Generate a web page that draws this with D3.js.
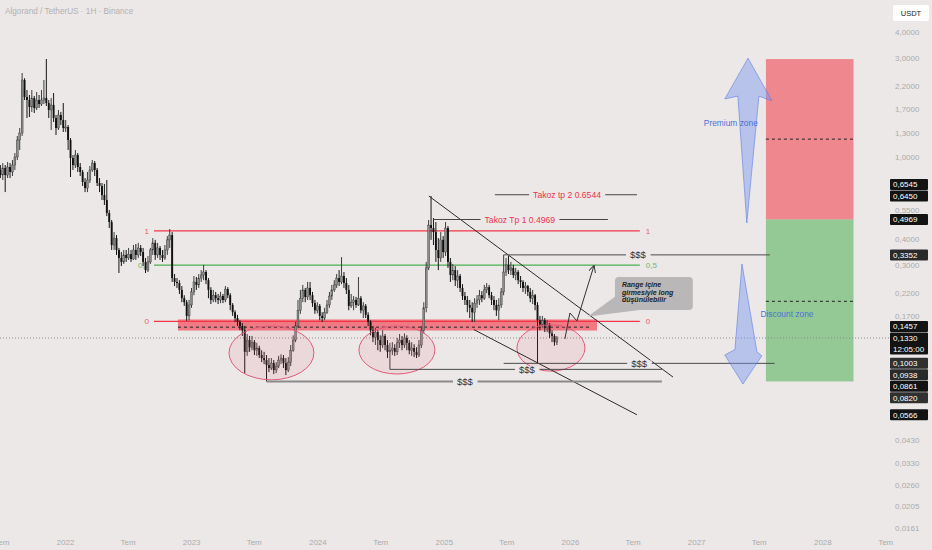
<!DOCTYPE html>
<html>
<head>
<meta charset="utf-8">
<script src="https://cdnjs.cloudflare.com/ajax/libs/d3/7.8.5/d3.min.js"></script>
<style>
  html, body { margin: 0; padding: 0; background: #ece8e8; }
  svg { display: block; font-family: "Liberation Sans", Arial, sans-serif; }
</style>
</head>
<body>
<svg id="chart" width="932" height="550"></svg>
<script>
// Weekly ALGO/USDT candles, first week starts 2021-06-28. Open = previous close.
const firstOpen = 0.862;
const closes = [
  0.815, 0.881, 0.815, 0.891, 0.843, 0.911, 0.996, 1.203, 1.30, 2.346,
  1.941, 1.877, 1.737, 1.919, 1.718, 1.877, 1.795, 1.877, 1.919, 1.815,
  1.680, 1.776, 1.537, 1.375, 1.589, 1.503, 1.375, 1.390, 1.203, 0.985,
  0.911, 1.018, 0.891, 0.843, 0.754, 0.705, 0.771, 0.862, 0.931, 0.862,
  0.746, 0.721, 0.652, 0.617, 0.534, 0.483, 0.374, 0.404, 0.354, 0.324,
  0.310, 0.335, 0.324, 0.338, 0.320, 0.354, 0.335, 0.362, 0.346, 0.310,
  0.283, 0.310, 0.354, 0.383, 0.335, 0.362, 0.335, 0.324, 0.354, 0.396,
  0.418, 0.259, 0.248, 0.245, 0.227, 0.207, 0.198, 0.170, 0.192, 0.222,
  0.248, 0.240, 0.259, 0.268, 0.277, 0.253, 0.227, 0.203, 0.214, 0.207,
  0.203, 0.212, 0.203, 0.229, 0.214, 0.192, 0.177, 0.166, 0.159, 0.152,
  0.145, 0.114, 0.130, 0.120, 0.127, 0.116, 0.119, 0.110, 0.1064, 0.104,
  0.0984, 0.0952, 0.1006, 0.0931, 0.0973, 0.104, 0.1064, 0.1006, 0.0931, 0.1017,
  0.116, 0.130, 0.152, 0.181, 0.207, 0.227, 0.210, 0.232, 0.214, 0.196,
  0.181, 0.190, 0.170, 0.166, 0.177, 0.192, 0.212, 0.227, 0.240, 0.259,
  0.248, 0.265, 0.245, 0.227, 0.190, 0.198, 0.203, 0.192, 0.207, 0.181,
  0.190, 0.172, 0.159, 0.145, 0.134, 0.142, 0.130, 0.123, 0.136, 0.123,
  0.114, 0.116, 0.119, 0.114, 0.126, 0.130, 0.123, 0.133, 0.126, 0.116,
  0.119, 0.114, 0.110, 0.123, 0.145, 0.186, 0.290, 0.467, 0.452, 0.432,
  0.354, 0.324, 0.396, 0.346, 0.452, 0.310, 0.268, 0.283, 0.253, 0.265,
  0.232, 0.212, 0.203, 0.192, 0.186, 0.177, 0.196, 0.203, 0.214, 0.207,
  0.227, 0.234, 0.214, 0.203, 0.192, 0.181, 0.192, 0.222, 0.277, 0.300,
  0.283, 0.290, 0.268, 0.277, 0.253, 0.248, 0.232, 0.237, 0.222, 0.207,
  0.214, 0.192, 0.162, 0.155, 0.162, 0.149, 0.154, 0.140, 0.136, 0.127, 0.1330,
];
const highs = [
  0.911, 0.931, 0.911, 0.942, 0.931, 0.963, 1.041, 1.258, 1.375, 2.535,
  2.39, 2.098, 1.985, 2.098, 1.963, 2.052, 1.985, 2.098, 2.346, 2.962,
  1.877, 1.919, 2.029, 1.589, 1.680, 1.643, 1.815, 1.503, 1.421, 1.230,
  1.018, 1.077, 1.041, 0.931, 0.862, 0.788, 0.843, 0.901, 0.963, 0.952,
  0.881, 0.788, 0.746, 0.738, 0.771, 0.552, 0.494, 0.432, 0.418, 0.362,
  0.346, 0.354, 0.354, 0.362, 0.354, 0.374, 0.378, 0.383, 0.374, 0.362,
  0.324, 0.331, 0.362, 0.404, 0.396, 0.383, 0.370, 0.354, 0.374, 0.413,
  0.447, 0.432, 0.271, 0.259, 0.253, 0.237, 0.214, 0.203, 0.203, 0.232,
  0.265, 0.262, 0.271, 0.283, 0.300, 0.283, 0.259, 0.234, 0.227, 0.222,
  0.217, 0.222, 0.217, 0.237, 0.234, 0.219, 0.196, 0.181, 0.172, 0.162,
  0.157, 0.152, 0.139, 0.136, 0.136, 0.130, 0.126, 0.122, 0.116, 0.114,
  0.110, 0.1064, 0.1064, 0.104, 0.1017, 0.109, 0.111, 0.110, 0.1064, 0.1075,
  0.123, 0.137, 0.159, 0.203, 0.227, 0.240, 0.232, 0.248, 0.248, 0.222,
  0.203, 0.198, 0.194, 0.177, 0.186, 0.203, 0.222, 0.240, 0.253, 0.271,
  0.283, 0.327, 0.277, 0.259, 0.240, 0.217, 0.212, 0.210, 0.262, 0.212,
  0.198, 0.194, 0.177, 0.162, 0.152, 0.149, 0.145, 0.137, 0.145, 0.139,
  0.130, 0.126, 0.127, 0.124, 0.133, 0.139, 0.136, 0.140, 0.137, 0.130,
  0.127, 0.124, 0.120, 0.130, 0.152, 0.198, 0.310, 0.494, 0.645, 0.505,
  0.483, 0.404, 0.432, 0.413, 0.483, 0.462, 0.324, 0.303, 0.296, 0.283,
  0.271, 0.242, 0.222, 0.212, 0.203, 0.198, 0.207, 0.214, 0.227, 0.224,
  0.240, 0.245, 0.240, 0.222, 0.212, 0.203, 0.207, 0.232, 0.3352, 0.324,
  0.331, 0.310, 0.300, 0.290, 0.283, 0.265, 0.253, 0.248, 0.240, 0.232,
  0.227, 0.217, 0.198, 0.170, 0.170, 0.166, 0.162, 0.157, 0.145, 0.139, 0.136,
];
const lows = [
  0.788, 0.771, 0.674, 0.788, 0.788, 0.806, 0.862, 0.963, 1.077, 1.258,
  1.877, 1.537, 1.554, 1.643, 1.625, 1.680, 1.718, 1.756, 1.795, 1.756,
  1.537, 1.345, 1.470, 1.272, 1.345, 1.421, 1.315, 1.315, 1.077, 0.797,
  0.862, 0.881, 0.843, 0.806, 0.721, 0.674, 0.674, 0.746, 0.843, 0.806,
  0.721, 0.674, 0.617, 0.584, 0.516, 0.452, 0.354, 0.354, 0.335, 0.274,
  0.296, 0.303, 0.310, 0.317, 0.310, 0.317, 0.317, 0.324, 0.331, 0.296,
  0.274, 0.277, 0.303, 0.335, 0.317, 0.324, 0.317, 0.310, 0.317, 0.335,
  0.362, 0.248, 0.237, 0.232, 0.217, 0.198, 0.190, 0.161, 0.162, 0.186,
  0.214, 0.227, 0.232, 0.248, 0.253, 0.242, 0.207, 0.194, 0.198, 0.198,
  0.194, 0.196, 0.196, 0.198, 0.207, 0.181, 0.170, 0.159, 0.152, 0.145,
  0.136, 0.0900, 0.109, 0.114, 0.116, 0.110, 0.109, 0.1064, 0.1017, 0.0995,
  0.0820, 0.0910, 0.0931, 0.0890, 0.0900, 0.0952, 0.0995, 0.0952, 0.0880, 0.0910,
  0.0973, 0.114, 0.127, 0.149, 0.174, 0.198, 0.198, 0.203, 0.203, 0.188,
  0.174, 0.175, 0.162, 0.159, 0.162, 0.174, 0.186, 0.203, 0.222, 0.232,
  0.237, 0.242, 0.232, 0.217, 0.181, 0.186, 0.181, 0.186, 0.190, 0.175,
  0.166, 0.166, 0.152, 0.137, 0.127, 0.123, 0.116, 0.114, 0.119, 0.116,
  0.1064, 0.0938, 0.110, 0.109, 0.110, 0.119, 0.116, 0.119, 0.116, 0.111,
  0.109, 0.1075, 0.1064, 0.1075, 0.119, 0.140, 0.177, 0.283, 0.396, 0.374,
  0.310, 0.283, 0.310, 0.324, 0.331, 0.290, 0.248, 0.253, 0.237, 0.232,
  0.222, 0.203, 0.192, 0.177, 0.166, 0.159, 0.159, 0.186, 0.192, 0.198,
  0.203, 0.219, 0.207, 0.192, 0.181, 0.170, 0.162, 0.186, 0.214, 0.265,
  0.271, 0.268, 0.259, 0.253, 0.242, 0.232, 0.222, 0.217, 0.212, 0.198,
  0.194, 0.181, 0.1003, 0.145, 0.149, 0.142, 0.142, 0.133, 0.127, 0.122, 0.123,
];

const priceTicks = [4, 3, 2.2, 1.7, 1.3, 1, 0.55, 0.4, 0.3, 0.22, 0.17, 0.043, 0.033, 0.026, 0.0205, 0.0161];
const yearTicks = [2021, 2022, 2023, 2024, 2025, 2026, 2027, 2028];
const midYearLabel = 'Tem';

// drawings, positioned in weeks since first candle and prices
const fibSpan = [63.5, 264.3];
const fibLevels = [
  { label: '1', price: 0.438, color: '#f23645' },
  { label: '0,5', price: 0.299, color: '#4caf50' },
  { label: '0', price: 0.160, color: '#f23645' },
];
const redZone = { w0: 73.4, w1: 246.6, top: 0.1635, bottom: 0.1445, mid: 0.150, midEnd: 243.7 };
const targets = [
  { text: 'Takoz tp 2 0.6544', price: 0.6544, w0: 204.4, w1: 263.1, wText: 234.2 },
  { text: 'Takoz Tp 1 0.4969', price: 0.4969, w0: 178.8, w1: 251.1, wText: 214.7 },
];
const liquidity = [
  { price: 0.3352, w0: 208, w1: 318, wText: 263.5, heavy: false },
  { price: 0.1003, w0: 208, w1: 320, wText: 264, heavy: false },
  { price: 0.0938, w0: 161, w1: 273.4, wText: 217.6, heavy: false },
  { price: 0.0820, w0: 110, w1: 273.4, wText: 192, heavy: true },
];
const trendLines = [
  [[177.1, 0.645], [278, 0.0861]],
  [[195.7, 0.146], [263.1, 0.0566]],
];
const circles = [
  { w0: 94.5, w1: 129.6, top: 0.152, bottom: 0.0835 },
  { w0: 148.2, w1: 179.6, top: 0.152, bottom: 0.0891 },
  { w0: 213.5, w1: 241.6, top: 0.154, bottom: 0.092 },
];
const projection = [[233.3, 0.1315], [235.4, 0.1756], [238.3, 0.1608], [245.3, 0.2964]];
const callout = { w0: 254, w1: 286.2, top: 0.262, bottom: 0.1816 };
const calloutTail = [[254.4, 0.212], [242.8, 0.169], [264.3, 0.1816]];
const calloutLines = ['Range içine', 'girmesiyle long', 'düşünülebilir'];
const zones = [
  { top: 2.96, bottom: 0.4969, mid: 1.215, fill: 'rgba(242,54,69,0.55)' },
  { top: 0.4969, bottom: 0.082, mid: 0.200, fill: 'rgba(76,175,80,0.55)' },
];
const zoneSpan = [316.4, 352.6];
const zoneArrows = [
  [[309, 2.99], [318.9, 1.86], [313.5, 1.96], [308.5, 0.478], [304.8, 1.96], [299.4, 1.90]],
  [[306.5, 0.303], [312.7, 0.114], [314.7, 0.109], [306.9, 0.0797], [299.4, 0.110], [303.6, 0.117]],
];
const zoneLabels = [
  { text: 'Premium zone', w: 301.9, price: 1.454 },
  { text: 'Discount zone', w: 325.1, price: 0.174 },
];
const badges = [
  { price: 0.6545, fill: '#131313' },
  { price: 0.6450, fill: '#131313' },
  { price: 0.4969, fill: '#131313' },
  { price: 0.3352, fill: '#2a2a2a' },
  { price: 0.1457, fill: '#131313' },
  { price: 0.1330, fill: '#131313', sub: '12:05:00' },
  { price: 0.1003, fill: '#303030' },
  { price: 0.0938, fill: '#2a2a2a' },
  { price: 0.0861, fill: '#131313' },
  { price: 0.0820, fill: '#303030' },
  { price: 0.0566, fill: '#131313' },
];
const currentPrice = 0.1330;

const bg = '#ece8e8';
const svg = d3.select('#chart');
svg.append('rect').attr('width', 932).attr('height', 550).attr('fill', bg);

const x = d3.scaleTime()
  .domain([new Date(2022, 0, 1), new Date(2026, 0, 1)])
  .range([65, 570]);
const y = d3.scaleLog()
  .domain([0.0161, 4])
  .range([527.8, 32]);
const firstWeek = new Date(2021, 5, 28);
const weekMs = 7 * 864e5;
const wx = w => x(new Date(firstWeek.getTime() + w * weekMs));
const fmtPrice = d => d3.format('.4f')(d).replace('.', ',');

const candles = closes.map((c, i) => ({
  date: d3.timeDay.offset(firstWeek, 7 * i),
  open: i === 0 ? firstOpen : closes[i - 1],
  high: highs[i],
  low: lows[i],
  close: c,
}));

// title
svg.append('text')
  .attr('x', 5)
  .attr('y', 14)
  .attr('font-size', 8.2)
  .attr('fill', '#b3b0b0')
  .text('Algorand / TetherUS · 1H · Binance');

// premium / discount boxes
const zoneG = svg.append('g').attr('class', 'zones');
zones.forEach(z => {
  zoneG.append('rect')
    .attr('x', wx(zoneSpan[0]))
    .attr('y', y(z.top))
    .attr('width', wx(zoneSpan[1]) - wx(zoneSpan[0]))
    .attr('height', y(z.bottom) - y(z.top))
    .attr('fill', z.fill);
  zoneG.append('line')
    .attr('x1', wx(zoneSpan[0]))
    .attr('x2', wx(zoneSpan[1]))
    .attr('y1', y(z.mid))
    .attr('y2', y(z.mid))
    .attr('stroke', '#222')
    .attr('stroke-dasharray', '3,3');
});

// red range band
svg.append('rect')
  .attr('x', wx(redZone.w0))
  .attr('y', y(redZone.top))
  .attr('width', wx(redZone.w1) - wx(redZone.w0))
  .attr('height', y(redZone.bottom) - y(redZone.top))
  .attr('fill', 'rgba(242,54,69,0.62)');
svg.append('line')
  .attr('x1', wx(redZone.w0))
  .attr('x2', wx(redZone.midEnd))
  .attr('y1', y(redZone.mid))
  .attr('y2', y(redZone.mid))
  .attr('stroke', '#222')
  .attr('stroke-dasharray', '3,3');

// fib levels
const fibG = svg.append('g').attr('class', 'fib');
fibLevels.forEach(f => {
  fibG.append('line')
    .attr('x1', wx(fibSpan[0]))
    .attr('x2', wx(fibSpan[1]))
    .attr('y1', y(f.price))
    .attr('y2', y(f.price))
    .attr('stroke', f.color)
    .attr('stroke-width', 1.2);
  fibG.append('text')
    .attr('x', wx(fibSpan[0]) - 5)
    .attr('y', y(f.price))
    .attr('dy', '0.35em')
    .attr('text-anchor', 'end')
    .attr('font-size', 8)
    .attr('fill', f.color)
    .attr('opacity', 0.8)
    .text(f.label);
  fibG.append('text')
    .attr('x', wx(fibSpan[1]) + 6)
    .attr('y', y(f.price))
    .attr('dy', '0.35em')
    .attr('font-size', 8)
    .attr('fill', f.color)
    .attr('opacity', 0.8)
    .text(f.label);
});

// current price dotted line
svg.append('line')
  .attr('x1', 0)
  .attr('x2', 890)
  .attr('y1', y(currentPrice))
  .attr('y2', y(currentPrice))
  .attr('stroke', '#8a8a8a')
  .attr('stroke-dasharray', '1,2');

// candles
const candleG = svg.append('g').attr('class', 'candles');
const candle = candleG.selectAll('g.candle')
  .data(candles)
  .enter()
  .append('g')
  .attr('class', 'candle');
candle.append('line')
  .attr('x1', d => x(d.date))
  .attr('x2', d => x(d.date))
  .attr('y1', d => y(d.high))
  .attr('y2', d => y(d.low))
  .attr('stroke', d => d.close >= d.open ? '#3c3c3c' : '#141414')
  .attr('stroke-width', 1);
candle.append('rect')
  .attr('x', d => x(d.date) - 0.95)
  .attr('width', 1.9)
  .attr('y', d => y(Math.max(d.open, d.close)))
  .attr('height', d => Math.max(0.9, Math.abs(y(d.open) - y(d.close))))
  .attr('fill', d => d.close >= d.open ? '#8c8c8c' : '#111')
  .attr('stroke', d => d.close >= d.open ? '#333' : 'none')
  .attr('stroke-width', 0.4);

// circled accumulation areas
svg.append('g')
  .selectAll('ellipse')
  .data(circles)
  .enter()
  .append('ellipse')
  .attr('cx', d => (wx(d.w0) + wx(d.w1)) / 2)
  .attr('cy', d => (y(d.top) + y(d.bottom)) / 2)
  .attr('rx', d => (wx(d.w1) - wx(d.w0)) / 2)
  .attr('ry', d => (y(d.bottom) - y(d.top)) / 2)
  .attr('fill', 'rgba(232,90,120,0.11)')
  .attr('stroke', '#e25a76')
  .attr('stroke-width', 1);

// trend channel
const line = d3.line().x(d => wx(d[0])).y(d => y(d[1]));
svg.append('g')
  .selectAll('path')
  .data(trendLines)
  .enter()
  .append('path')
  .attr('d', line)
  .attr('fill', 'none')
  .attr('stroke', '#2b2b2b')
  .attr('stroke-width', 1);

// horizontal lines with a label sitting in a gap
function gapLabel(g, opts) {
  g.append('line')
    .attr('x1', wx(opts.w0))
    .attr('x2', wx(opts.w1))
    .attr('y1', y(opts.price))
    .attr('y2', y(opts.price))
    .attr('stroke', opts.stroke)
    .attr('stroke-width', opts.strokeWidth);
  const t = g.append('text')
    .attr('x', wx(opts.wText))
    .attr('y', y(opts.price))
    .attr('dy', '0.35em')
    .attr('text-anchor', 'middle')
    .attr('font-size', opts.fontSize)
    .attr('fill', opts.color)
    .text(opts.text);
  const box = t.node().getBBox();
  g.insert('rect', () => t.node())
    .attr('x', box.x - 4)
    .attr('y', y(opts.price) - 3)
    .attr('width', box.width + 8)
    .attr('height', 6)
    .attr('fill', bg);
}
const labelG = svg.append('g').attr('class', 'labels');
targets.forEach(t => gapLabel(labelG, {
  ...t, stroke: '#444', strokeWidth: 1, fontSize: 8.6, color: '#e8344e',
}));
liquidity.forEach(l => gapLabel(labelG, {
  ...l, text: '$$$', stroke: l.heavy ? '#8a8a8a' : '#4a4a4a',
  strokeWidth: l.heavy ? 2 : 1, fontSize: 9.5, color: '#333',
}));

// projected path
svg.append('defs').append('marker')
  .attr('id', 'head')
  .attr('viewBox', '0 0 10 10')
  .attr('refX', 9)
  .attr('refY', 5)
  .attr('markerWidth', 7)
  .attr('markerHeight', 7)
  .attr('orient', 'auto')
  .append('path')
  .attr('d', 'M0,0 L10,5 L0,10')
  .attr('fill', 'none')
  .attr('stroke', '#333')
  .attr('stroke-width', 1.4);
svg.append('path')
  .attr('d', line(projection))
  .attr('fill', 'none')
  .attr('stroke', '#333')
  .attr('stroke-width', 1)
  .attr('marker-end', 'url(#head)');

// callout
const calloutG = svg.append('g').attr('class', 'callout');
calloutG.append('path')
  .attr('d', line(calloutTail) + 'Z')
  .attr('fill', '#b9b7b7');
calloutG.append('rect')
  .attr('x', wx(callout.w0))
  .attr('y', y(callout.top))
  .attr('width', wx(callout.w1) - wx(callout.w0))
  .attr('height', y(callout.bottom) - y(callout.top))
  .attr('rx', 4)
  .attr('fill', '#b9b7b7');
calloutG.selectAll('text')
  .data(calloutLines)
  .enter()
  .append('text')
  .attr('x', wx(callout.w0) + 7)
  .attr('y', (d, i) => y(callout.top) + 10 + i * 7.6)
  .attr('font-size', 7)
  .attr('font-weight', 'bold')
  .attr('font-style', 'italic')
  .attr('fill', '#222')
  .text(d => d);

// blue zone arrows
svg.append('g')
  .selectAll('path')
  .data(zoneArrows)
  .enter()
  .append('path')
  .attr('d', d => line(d) + 'Z')
  .attr('fill', 'rgba(120,150,238,0.45)')
  .attr('stroke', 'rgba(95,125,230,0.6)')
  .attr('stroke-width', 1);
svg.append('g')
  .selectAll('text')
  .data(zoneLabels)
  .enter()
  .append('text')
  .attr('x', d => wx(d.w))
  .attr('y', d => y(d.price))
  .attr('dy', '0.35em')
  .attr('text-anchor', 'middle')
  .attr('font-size', 8.4)
  .attr('fill', '#4a72d8')
  .text(d => d.text);

// x axis
const xTicks = [];
yearTicks.forEach(yr => {
  if (yr > yearTicks[0]) xTicks.push(new Date(yr, 0, 1));
  xTicks.push(new Date(yr, 6, 1));
});
const xAxis = svg.append('g')
  .attr('transform', 'translate(0, 536)')
  .call(d3.axisBottom(x)
    .tickValues(xTicks)
    .tickSize(0)
    .tickFormat(d => d.getMonth() === 0 ? d.getFullYear() : midYearLabel));
xAxis.select('.domain').remove();
xAxis.selectAll('text')
  .attr('font-size', 8)
  .attr('font-family', '"Liberation Sans", Arial, sans-serif')
  .attr('fill', '#ababab');

// y axis
const yAxis = svg.append('g')
  .attr('transform', 'translate(892, 0)')
  .call(d3.axisRight(y)
    .tickValues(priceTicks)
    .tickSize(0)
    .tickFormat(fmtPrice));
yAxis.select('.domain').remove();
yAxis.selectAll('text')
  .attr('x', 3)
  .attr('font-size', 8)
  .attr('font-family', '"Liberation Sans", Arial, sans-serif')
  .attr('fill', '#ababab');

// unit button
svg.append('rect')
  .attr('x', 893)
  .attr('y', 5)
  .attr('width', 36)
  .attr('height', 16)
  .attr('rx', 2)
  .attr('fill', '#fff');
svg.append('text')
  .attr('x', 911)
  .attr('y', 13)
  .attr('dy', '0.35em')
  .attr('text-anchor', 'middle')
  .attr('font-size', 7.5)
  .attr('fill', '#222')
  .text('USDT');

// price badges, stacked so they do not overlap
const half = 5.5;
const laid = badges
  .map(b => ({ ...b, cy: y(b.price), ext: half + (b.sub ? 11 : 0) }))
  .sort((a, b) => a.cy - b.cy);
const pin = laid.findIndex(b => b.sub);
for (let i = pin - 1; i >= 0; i--) {
  laid[i].cy = Math.min(laid[i].cy, laid[i + 1].cy - half - 0.5 - laid[i].ext);
}
for (let i = pin + 1; i < laid.length; i++) {
  laid[i].cy = Math.max(laid[i].cy, laid[i - 1].cy + laid[i - 1].ext + 0.5 + half);
}
const badge = svg.append('g')
  .selectAll('g.badge')
  .data(laid)
  .enter()
  .append('g')
  .attr('class', 'badge')
  .attr('transform', d => `translate(890, ${d.cy})`);
badge.append('rect')
  .attr('y', -half)
  .attr('width', 38)
  .attr('height', d => half + d.ext)
  .attr('rx', 1)
  .attr('fill', d => d.fill);
badge.append('text')
  .attr('x', 3)
  .attr('dy', '0.35em')
  .attr('font-size', 8)
  .attr('fill', '#fff')
  .text(d => fmtPrice(d.price));
badge.filter(d => d.sub)
  .append('text')
  .attr('x', 3)
  .attr('y', 11)
  .attr('dy', '0.35em')
  .attr('font-size', 8)
  .attr('fill', '#fff')
  .text(d => d.sub);
</script>
</body>
</html>
